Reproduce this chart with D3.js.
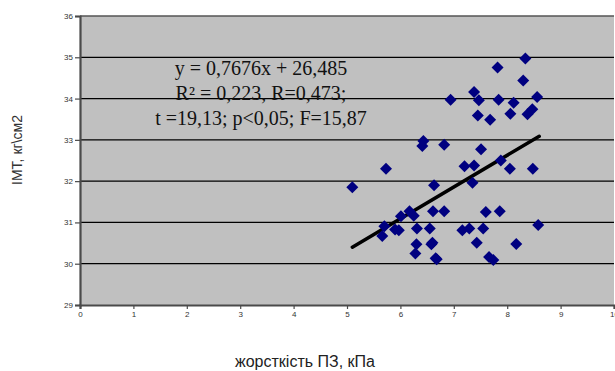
<!DOCTYPE html>
<html>
<head>
<meta charset="utf-8">
<script src="https://cdn.jsdelivr.net/npm/d3@7"></script>
<style>
  html, body { margin: 0; padding: 0; background: #fff; }
  svg { display: block; }
</style>
</head>
<body>
<svg id="chart" width="615" height="371"></svg>
<script>
// Liver stiffness (kPa) vs BMI (kg/m2)
const stiffness = [
  8.34, 7.82, 8.30, 6.94, 7.38, 7.47, 7.84, 8.12, 8.56, 7.45,
  7.68, 8.06, 8.38, 8.47, 6.43, 6.41, 6.82, 7.51, 5.73, 5.10,
  6.63, 7.20, 7.38, 7.88, 8.05, 8.48, 7.35, 6.01, 6.17, 6.25,
  6.61, 6.82, 7.60, 7.86, 5.70, 5.66, 5.90, 5.97, 6.31, 6.55,
  6.30, 6.28, 6.60, 6.66, 7.16, 7.29, 7.55, 8.58, 7.43, 8.17,
  7.66, 7.74, 6.58, 6.68
];
const bmi = [
  34.97, 34.75, 34.44, 33.97, 34.16, 33.96, 33.97, 33.90, 34.04, 33.59,
  33.49, 33.63, 33.62, 33.74, 32.97, 32.85, 32.88, 32.77, 32.30, 31.85,
  31.90, 32.36, 32.38, 32.50, 32.30, 32.30, 31.96, 31.15, 31.27, 31.16,
  31.27, 31.27, 31.25, 31.27, 30.91, 30.67, 30.83, 30.81, 30.85, 30.85,
  30.47, 30.25, 30.51, 30.13, 30.81, 30.85, 30.85, 30.94, 30.51, 30.48,
  30.16, 30.09, 30.47, 30.11
];

// Linear trend and statistics
const slope = 0.7676;
const intercept = 26.485;
const trendRange = [5.1, 8.6];
const statLines = [
  "y = 0,7676x + 26,485",
  "R² = 0,223, R=0,473;",
  "t =19,13; p<0,05; F=15,87"
];

const xTicks = [0, 1, 2, 3, 4, 5, 6, 7, 8, 9, 10];
const yTicks = [29, 30, 31, 32, 33, 34, 35, 36];
const xTitle = "жорсткість ПЗ, кПа";
const yTitle = "ІМТ, кг\\см2";

const svg = d3.select("#chart");
const plotLeft = 80, plotRight = 614, plotTop = 16, plotBottom = 305;

const x = d3.scaleLinear().domain([0, 10]).range([plotLeft, plotRight]);
const y = d3.scaleLinear().domain([29, 36]).range([plotBottom, plotTop]);

// plot area
svg.append("rect")
  .attr("x", plotLeft).attr("y", plotTop)
  .attr("width", plotRight - plotLeft).attr("height", plotBottom - plotTop)
  .attr("fill", "#c0c0c0");

// horizontal gridlines
svg.append("g")
  .selectAll("line")
  .data(yTicks.filter(t => t > 29 && t < 36))
  .join("line")
  .attr("x1", plotLeft).attr("x2", plotRight)
  .attr("y1", d => y(d)).attr("y2", d => y(d))
  .attr("stroke", "#000").attr("stroke-width", 1.2);

// top border
svg.append("line")
  .attr("x1", plotLeft).attr("x2", plotRight)
  .attr("y1", y(36)).attr("y2", y(36))
  .attr("stroke", "#555").attr("stroke-width", 1.5);

// axes
const xAxis = d3.axisBottom(x).tickValues(xTicks).tickSize(4).tickPadding(2)
  .tickFormat(d3.format("d"));
const yAxis = d3.axisLeft(y).tickValues(yTicks).tickSize(5).tickPadding(2)
  .tickFormat(d3.format("d"));

const gx = svg.append("g").attr("transform", `translate(0,${plotBottom})`).call(xAxis);
const gy = svg.append("g").attr("transform", `translate(${plotLeft},0)`).call(yAxis);

[gx, gy].forEach(g => {
  g.select(".domain").attr("stroke", "#4a4a4a").attr("stroke-width", 2.2);
  g.selectAll(".tick line").attr("stroke", "#4a4a4a").attr("stroke-width", 1.2);
  g.selectAll(".tick text")
    .attr("fill", "#333")
    .style("font-family", "'Liberation Sans', Arial, sans-serif")
    .style("font-size", "8px");
});

// regression line
svg.append("line")
  .attr("x1", x(trendRange[0])).attr("y1", y(slope * trendRange[0] + intercept))
  .attr("x2", x(trendRange[1])).attr("y2", y(slope * trendRange[1] + intercept))
  .attr("stroke", "#000").attr("stroke-width", 3.5)
  .attr("stroke-linecap", "round");

// points
const diamond = d3.symbol().type(d3.symbolSquare).size(72);
svg.append("g")
  .selectAll("path")
  .data(stiffness.map((s, i) => [s, bmi[i]]))
  .join("path")
  .attr("d", diamond)
  .attr("transform", d => `translate(${x(d[0])},${y(d[1])}) rotate(45)`)
  .attr("fill", "#000080");

// statistics label
svg.append("g")
  .selectAll("text")
  .data(statLines)
  .join("text")
  .attr("x", 261)
  .attr("y", (d, i) => 75 + i * 25)
  .attr("text-anchor", "middle")
  .attr("fill", "#111")
  .style("font-family", "'Liberation Serif', 'Times New Roman', serif")
  .style("font-size", "20px")
  .text(d => d);

// axis titles
svg.append("text")
  .attr("x", 305).attr("y", 367)
  .attr("text-anchor", "middle")
  .attr("fill", "#222")
  .style("font-family", "'Liberation Sans', Arial, sans-serif")
  .style("font-size", "16px")
  .text(xTitle);

svg.append("text")
  .attr("transform", "translate(22,150) rotate(-90)")
  .attr("text-anchor", "middle")
  .attr("fill", "#333")
  .style("font-family", "'Liberation Sans', Arial, sans-serif")
  .style("font-size", "14px")
  .text(yTitle);
</script>
</body>
</html>
